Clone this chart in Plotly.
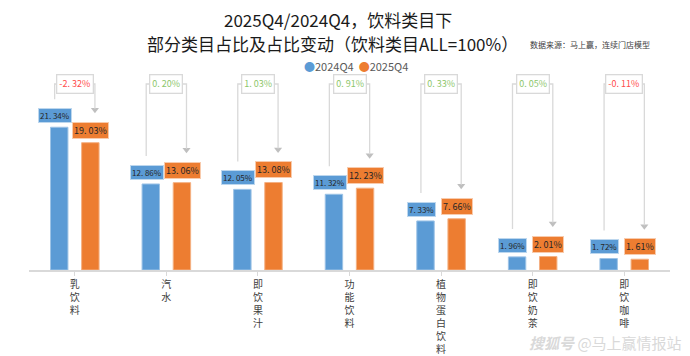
import plotly.graph_objects as go

categories = ["乳饮料", "汽水", "即饮果汁", "功能饮料", "植物蛋白饮料", "即饮奶茶", "即饮咖啡"]
share_2024q4 = [21.34, 12.86, 12.05, 11.32, 7.33, 1.96, 1.72]
share_2025q4 = [19.03, 13.06, 13.08, 12.23, 7.66, 2.01, 1.61]
share_change = [-2.32, 0.20, 1.03, 0.91, 0.33, 0.05, -0.11]
series_names = ["2024Q4", "2025Q4"]

BLUE = "#5b9bd5"
ORANGE = "#ed7d31"
GRAY = "#d9d9d9"
FONT = "Noto Sans CJK SC"

# page body has an 8px margin: lay the figure out in screen coordinates minus 8
OFS = 8
W, H = 690 - OFS, 356 - OFS
PLOT_L, PLOT_R, PLOT_T, PLOT_B = 29, 670, 60, 270   # screen px
ML, MR = PLOT_L - OFS, (W + OFS) - PLOT_R
MT, MB = PLOT_T - OFS, (H + OFS) - PLOT_B
PX_PER_UNIT = 6.69
YMAX = (PLOT_B - PLOT_T) / PX_PER_UNIT
px = 1 / PX_PER_UNIT

def fmt(v):
    s = f"{v:.2f}"
    a, b = s.split(".")
    return f"{a}. {b}%"

x = list(range(len(categories)))

fig = go.Figure()
fig.add_trace(go.Bar(x=x, y=share_2024q4, name=series_names[0], marker=dict(color=BLUE, line=dict(color="#9dc3e6", width=1)), showlegend=False))
fig.add_trace(go.Bar(x=x, y=share_2025q4, name=series_names[1], marker=dict(color=ORANGE, line=dict(color="#f4b183", width=1)), showlegend=False))

OFF = 0.172
ARM = 0.22
TOP = (PLOT_B - 84) / PX_PER_UNIT
shapes = []
annotations = []
tip_x, tip_y = [], []
for i, (a, b, d) in enumerate(zip(share_2024q4, share_2025q4, share_change)):
    annotations.append(dict(x=i - OFF, y=a, xref="x", yref="y", text=fmt(a), showarrow=False,
                            yanchor="bottom", yshift=4, xshift=-4, bgcolor=BLUE, bordercolor="#bdd7ee",
                            borderwidth=1, borderpad=1, font=dict(size=8, color="#262626", family=FONT)))
    annotations.append(dict(x=i + OFF, y=b, xref="x", yref="y", text=fmt(b), showarrow=False,
                            yanchor="bottom", yshift=4, bgcolor=ORANGE, bordercolor="#f8cbad",
                            borderwidth=1, borderpad=1, font=dict(size=9, color="#262626", family=FONT)))
    y_left = a + 28 * px
    y_tip = b + 30 * px
    path = (f"M {i - ARM} {y_left} L {i - ARM} {TOP} L {i + ARM} {TOP} L {i + ARM} {y_tip + 4 * px}")
    shapes.append(dict(type="path", path=path, xref="x", yref="y",
                       line=dict(color=GRAY, width=1.3)))
    tip_x.append(i + ARM)
    tip_y.append(y_tip + 3 * px)
    col = "#ff4b4b" if d < 0 else "#8cc66a"
    annotations.append(dict(x=i, y=TOP, xref="x", yref="y", text=fmt(d), showarrow=False,
                            bgcolor="white", bordercolor=GRAY, borderwidth=1.3, borderpad=2,
                            font=dict(size=9, color=col, family=FONT)))

fig.add_trace(go.Scatter(x=tip_x, y=tip_y, mode="markers", showlegend=False, hoverinfo="skip",
                         marker=dict(symbol="triangle-down", size=7, color="#bfbfbf")))

# positions below are in screen pixels
fig_annots = [
    dict(x=338, y=19, text="2025Q4/2024Q4，饮料类目下", xanchor="center",
         font=dict(size=17, color="#1a1a1a", family=FONT)),
    dict(x=332, y=43, text="部分类目占比及占比变动（饮料类目ALL=100%）", xanchor="center",
         font=dict(size=17, color="#1a1a1a", family=FONT)),
    dict(x=528, y=44, text="数据来源：马上赢，连续门店模型", xanchor="left",
         font=dict(size=8, color="#404040", family=FONT)),
    dict(x=302, y=66, text=(f"<span style='color:{BLUE}'>●</span>{series_names[0]}"
                            f"  <span style='color:{ORANGE}'>●</span>{series_names[1]}"),
         xanchor="left", font=dict(size=11, color="#595959", family=FONT)),
    dict(x=684, y=342, text="<i><b>搜狐号</b></i> @马上赢情报站", xanchor="right",
         font=dict(size=15, color="#d9d9d9", family=FONT)),
]
for a in fig_annots:
    a.update(xref="paper", yref="paper", showarrow=False, yanchor="middle",
             x=(a["x"] - PLOT_L) / (PLOT_R - PLOT_L), y=(PLOT_B - a["y"]) / (PLOT_B - PLOT_T))
    annotations.append(a)

fig.update_layout(
    width=W, height=H,
    margin=dict(l=ML, r=MR, t=MT, b=MB),
    plot_bgcolor="white", paper_bgcolor="white",
    barmode="group", bargap=0.32, bargroupgap=0.44,
    shapes=shapes, annotations=annotations,
    showlegend=False,
    xaxis=dict(tickvals=x, ticktext=["<br>".join(c) for c in categories], range=[-0.5, len(categories) - 0.5],
               showline=True, linecolor=GRAY, linewidth=1.5, ticks="outside", ticklen=4, tickcolor=GRAY,
               tickfont=dict(size=10, color="#404040", family=FONT), showgrid=False, zeroline=False,
               automargin=False),
    yaxis=dict(range=[0, YMAX], visible=False, showgrid=False, zeroline=False, automargin=False),
)

fig.write_html("out.html")
